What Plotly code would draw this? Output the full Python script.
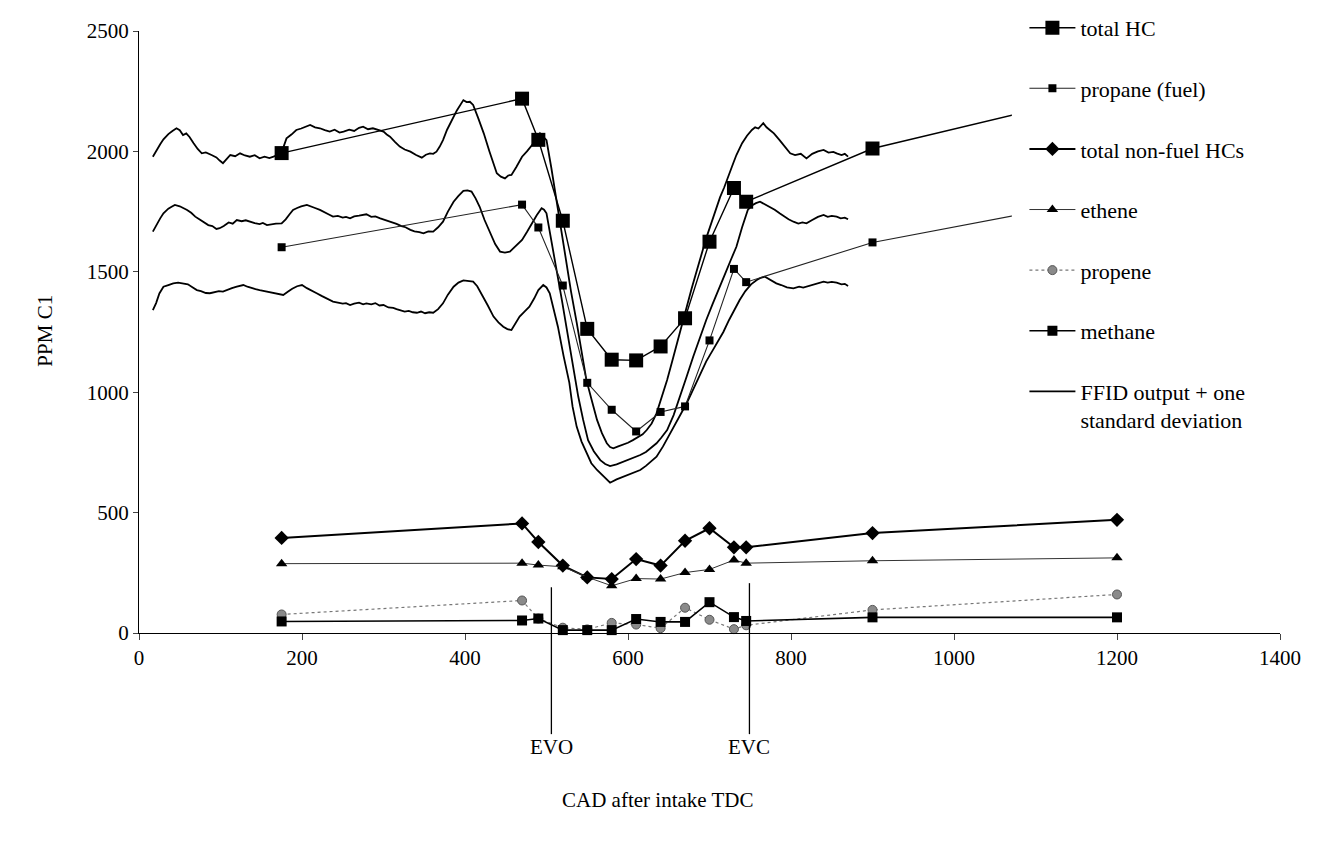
import plotly.graph_objects as go

# ---------------- data ----------------
cad = [175, 470, 490, 520, 550, 580, 610, 640, 670, 700, 730, 745, 900, 1200]
total_hc = [1993, 2219, 2048, 1712, 1263, 1135, 1132, 1190, 1307, 1625, 1848, 1791, 2012, 2255]
propane_fuel = [1602, 1779, 1684, 1443, 1039, 927, 837, 918, 941, 1215, 1512, 1457, 1622, 1814]
non_fuel = [395, 455, 378, 280, 231, 224, 307, 280, 383, 435, 356, 356, 415, 470]
ethene = [288, 290, 282, 275, 232, 196, 226, 224, 251, 264, 303, 290, 300, 312]
propene = [77, 135, 60, 22, 15, 42, 35, 20, 105, 55, 16, 32, 96, 160]
methane = [48, 52, 60, 12, 12, 12, 58, 46, 46, 128, 66, 50, 65, 65]

# FFID traces, (CAD, ppm) pairs
ffid_upper = [
    (17, 1978), (22, 2010), (26, 2030), (30, 2050), (36, 2072), (41, 2085), (46, 2096), (50, 2088),
    (54, 2068), (58, 2075), (62, 2060), (67, 2034), (72, 2010), (77, 1992), (82, 1996), (89, 1985),
    (95, 1975), (99, 1962), (103, 1951), (108, 1970), (112, 1985), (118, 1980), (124, 1992),
    (130, 1983), (136, 1978), (142, 1984), (148, 1971), (154, 1978), (160, 1972), (165, 1978),
    (170, 1985), (175, 1996), (181, 2054), (187, 2070), (193, 2089), (199, 2095), (205, 2104),
    (210, 2110), (216, 2100), (222, 2096), (228, 2088), (234, 2082), (240, 2090), (246, 2078),
    (251, 2082), (258, 2090), (264, 2085), (270, 2098), (275, 2103), (281, 2092), (287, 2096),
    (293, 2090), (300, 2082), (304, 2070), (308, 2061), (314, 2040), (320, 2020), (326, 2008),
    (333, 1999), (340, 1985), (347, 1974), (352, 1986), (357, 1992), (361, 1990), (365, 1999),
    (369, 2020), (373, 2047), (378, 2090), (384, 2130), (390, 2170), (398, 2213), (402, 2205),
    (406, 2206), (410, 2193), (416, 2140), (423, 2075), (430, 2000), (439, 1909), (444, 1895),
    (449, 1888), (453, 1900), (457, 1902), (463, 1935), (470, 1978), (476, 2000), (482, 2027),
    (488, 2050), (492, 2075), (496, 2060), (500, 2047), (506, 1930), (512, 1800), (518, 1680),
    (524, 1560), (530, 1420), (537, 1290), (543, 1170), (549, 1050), (556, 960), (562, 885),
    (568, 830), (574, 788), (578, 772), (582, 767), (588, 775), (594, 781), (600, 790), (606, 801),
    (612, 812), (618, 825), (623, 843), (629, 870), (635, 912), (641, 975), (648, 1051),
    (654, 1125), (660, 1203), (666, 1280), (672, 1360), (678, 1430), (684, 1500), (690, 1575),
    (696, 1640), (702, 1700), (708, 1760), (713, 1810), (718, 1850), (725, 1909), (729, 1950),
    (733, 1985), (737, 2015), (740, 2034), (746, 2065), (752, 2089), (756, 2100), (760, 2095),
    (766, 2117), (770, 2100), (774, 2089), (779, 2075), (786, 2047), (792, 2020), (799, 1992),
    (805, 1985), (812, 1990), (819, 1971), (826, 1990), (833, 2000), (840, 2006), (846, 1995),
    (852, 1998), (856, 1992), (862, 1985), (866, 1990), (870, 1978),
]
ffid_mean = [
    (17, 1667), (22, 1700), (26, 1722), (30, 1743), (36, 1762), (40, 1770), (44, 1778), (50, 1772),
    (55, 1765), (59, 1757), (64, 1745), (69, 1729), (74, 1718), (80, 1705), (85, 1694), (90, 1690),
    (95, 1678), (99, 1681), (104, 1690), (110, 1705), (115, 1700), (120, 1715), (126, 1710),
    (131, 1714), (136, 1708), (142, 1702), (148, 1698), (152, 1703), (157, 1694), (162, 1698),
    (168, 1700), (175, 1701), (180, 1718), (185, 1740), (189, 1757), (194, 1765), (199, 1772),
    (206, 1778), (211, 1770), (216, 1765), (222, 1757), (228, 1745), (233, 1738), (238, 1729),
    (244, 1732), (250, 1725), (254, 1728), (259, 1722), (264, 1730), (270, 1733), (275, 1738),
    (279, 1739), (285, 1728), (290, 1730), (296, 1722), (300, 1718), (306, 1710), (311, 1705),
    (316, 1699), (322, 1690), (327, 1685), (333, 1674), (338, 1668), (344, 1665), (349, 1660),
    (355, 1668), (361, 1667), (367, 1685), (373, 1708), (379, 1750), (386, 1791), (392, 1815),
    (398, 1836), (403, 1838), (408, 1833), (413, 1805), (418, 1770), (424, 1715), (431, 1660),
    (437, 1615), (443, 1584), (449, 1580), (455, 1584), (460, 1600), (465, 1615), (470, 1632),
    (476, 1665), (482, 1701), (488, 1735), (494, 1764), (497, 1758), (500, 1743), (504, 1670),
    (508, 1590), (513, 1490), (519, 1380), (524, 1280), (529, 1180), (534, 1080), (539, 981),
    (545, 885), (551, 801), (558, 755), (566, 718), (572, 702), (578, 693), (586, 700), (594, 711),
    (600, 718), (608, 727), (615, 739), (622, 752), (628, 768), (635, 788), (641, 812), (648, 843),
    (656, 905), (664, 981), (672, 1065), (680, 1147), (688, 1225), (696, 1300), (704, 1368),
    (712, 1430), (719, 1490), (726, 1548), (733, 1604), (740, 1685), (747, 1757), (752, 1775),
    (757, 1785), (762, 1791), (768, 1780), (774, 1770), (780, 1758), (786, 1743), (791, 1730),
    (797, 1718), (803, 1708), (809, 1700), (814, 1705), (819, 1701), (826, 1715), (833, 1728),
    (840, 1736), (845, 1728), (850, 1732), (856, 1729), (861, 1722), (866, 1725), (870, 1718),
]
ffid_lower = [
    (17, 1341), (21, 1370), (25, 1410), (30, 1438), (36, 1445), (42, 1452), (48, 1455), (54, 1452),
    (60, 1448), (66, 1435), (71, 1424), (76, 1420), (82, 1412), (87, 1411), (92, 1415), (98, 1420),
    (103, 1418), (108, 1425), (114, 1432), (120, 1438), (128, 1445), (133, 1438), (138, 1432),
    (143, 1428), (148, 1424), (154, 1420), (160, 1416), (166, 1412), (172, 1410), (177, 1404),
    (183, 1418), (188, 1430), (194, 1440), (200, 1445), (206, 1432), (212, 1420), (218, 1411),
    (224, 1400), (230, 1390), (238, 1376), (244, 1372), (250, 1368), (254, 1370), (259, 1362),
    (264, 1368), (270, 1372), (275, 1365), (279, 1369), (285, 1365), (290, 1370), (295, 1360),
    (300, 1362), (306, 1352), (312, 1350), (316, 1345), (320, 1341), (326, 1335), (331, 1338),
    (336, 1332), (341, 1330), (346, 1335), (351, 1328), (356, 1332), (361, 1330), (367, 1345),
    (373, 1369), (379, 1405), (386, 1438), (392, 1455), (398, 1464), (404, 1462), (410, 1459),
    (415, 1440), (420, 1411), (428, 1360), (435, 1314), (441, 1290), (447, 1272), (452, 1262),
    (457, 1258), (462, 1285), (467, 1314), (473, 1335), (479, 1355), (485, 1390), (490, 1424),
    (496, 1445), (500, 1435), (504, 1411), (509, 1345), (514, 1272), (521, 1150), (528, 1040),
    (532, 940), (537, 857), (543, 795), (549, 746), (555, 705), (562, 677), (570, 650), (578, 624),
    (586, 638), (594, 649), (600, 656), (607, 665), (615, 677), (622, 694), (628, 710), (635, 732),
    (643, 775), (652, 829), (660, 880), (666, 918), (672, 954), (680, 1012), (688, 1070),
    (696, 1128), (705, 1180), (711, 1215), (717, 1250), (724, 1300), (730, 1340), (737, 1383),
    (744, 1420), (751, 1448), (758, 1466), (763, 1475), (768, 1480), (774, 1468), (782, 1452),
    (788, 1445), (795, 1435), (803, 1431), (810, 1438), (815, 1434), (819, 1438), (826, 1445),
    (833, 1452), (840, 1459), (845, 1455), (850, 1458), (856, 1455), (862, 1448), (866, 1450),
    (870, 1441),
]

x_ticks = [0, 200, 400, 600, 800, 1000, 1200, 1400]
y_ticks = [0, 500, 1000, 1500, 2000, 2500]
evo_cad, evc_cad = 506, 749
evo_top, evc_top = 190, 207
x_max, y_max = 1400, 2500

FONT = "Liberation Serif, Times New Roman, serif"

fig = go.Figure()

# FFID curves (drawn first, listed last in legend)
for i, curve in enumerate([ffid_upper, ffid_mean, ffid_lower]):
    xs = [p[0] for p in curve]
    ys = [p[1] for p in curve]
    fig.add_trace(go.Scatter(
        x=xs, y=ys, mode="lines", line=dict(color="black", width=1.8),
        name="FFID output + one<br>standard deviation", legendgroup="ffid",
        showlegend=(i == 0), legendrank=100))

series = [
    ("total HC", total_hc, dict(symbol="square", size=14, color="black"), dict(color="black", width=1.4)),
    ("propane (fuel)", propane_fuel, dict(symbol="square", size=8, color="black"), dict(color="#222", width=1.1)),
    ("total non-fuel HCs", non_fuel, dict(symbol="diamond", size=11, color="black"), dict(color="black", width=2)),
    ("ethene", ethene, dict(symbol="triangle-up", size=10, color="black"), dict(color="#333", width=1)),
    ("propene", propene, dict(symbol="circle", size=9, color="#8a8a8a", line=dict(color="#555", width=1)),
     dict(color="#777", width=1.2, dash="dot")),
    ("methane", methane, dict(symbol="square", size=10, color="black"), dict(color="black", width=1.6)),
]
for rank, (name, vals, mk, ln) in enumerate(series):
    fig.add_trace(go.Scatter(
        x=cad, y=vals, mode="lines+markers", name=name, marker=mk, line=ln,
        legendgroup=name, legendrank=rank + 1, cliponaxis=False))

# white strip continuing the legend's background to the left (the legend box covers the lines)
shapes = [dict(type="rect", xref="paper", yref="paper", x0=0.765, x1=0.78, y0=0.28, y1=1.05,
               fillcolor="white", line=dict(width=0), layer="above")]
annotations = []
for xv, ytop, label in [(evo_cad, evo_top, "EVO"), (evc_cad, evc_top, "EVC")]:
    shapes.append(dict(type="line", xref="paper", yref="paper",
                       x0=xv / x_max, x1=xv / x_max, y0=ytop / y_max, y1=-0.168,
                       line=dict(color="black", width=1.3)))
    annotations.append(dict(text=label, xref="paper", yref="paper", x=xv / x_max, y=-0.19,
                            showarrow=False, xanchor="center", yanchor="middle",
                            font=dict(family=FONT, size=21, color="black")))

annotations.append(dict(text="CAD after intake TDC", xref="paper", yref="paper", x=0.454, y=-0.277,
                        showarrow=False, xanchor="center", yanchor="middle",
                        font=dict(family=FONT, size=21, color="black")))
annotations.append(dict(text="PPM C1", xref="paper", yref="paper", x=-0.082, y=0.503, textangle=-90,
                        showarrow=False, xanchor="center", yanchor="middle",
                        font=dict(family=FONT, size=21, color="black")))

fig.update_layout(
    width=1320, height=844,
    margin=dict(l=139, r=40, t=31, b=211, autoexpand=False),
    paper_bgcolor="white", plot_bgcolor="white",
    font=dict(family=FONT, size=21, color="black"),
    shapes=shapes, annotations=annotations,
    legend=dict(x=0.776, y=1.04, xanchor="left", yanchor="top", bgcolor="white",
                font=dict(family=FONT, size=22, color="black"), tracegroupgap=29,
                valign="top", itemwidth=46, borderwidth=0, maxheight=800),
    xaxis=dict(range=[0, x_max], tickvals=x_ticks, ticks="outside", ticklen=6, tickwidth=1,
               showline=True, linecolor="black", linewidth=1.2, showgrid=False, zeroline=False,
               tickfont=dict(family=FONT, size=21, color="black")),
    yaxis=dict(range=[0, y_max], tickvals=y_ticks, ticks="outside", ticklen=5, tickwidth=1,
               showline=True, linecolor="black", linewidth=1.2, showgrid=False, zeroline=False,
               tickfont=dict(family=FONT, size=21, color="black")),
)

fig.write_html("out.html")
